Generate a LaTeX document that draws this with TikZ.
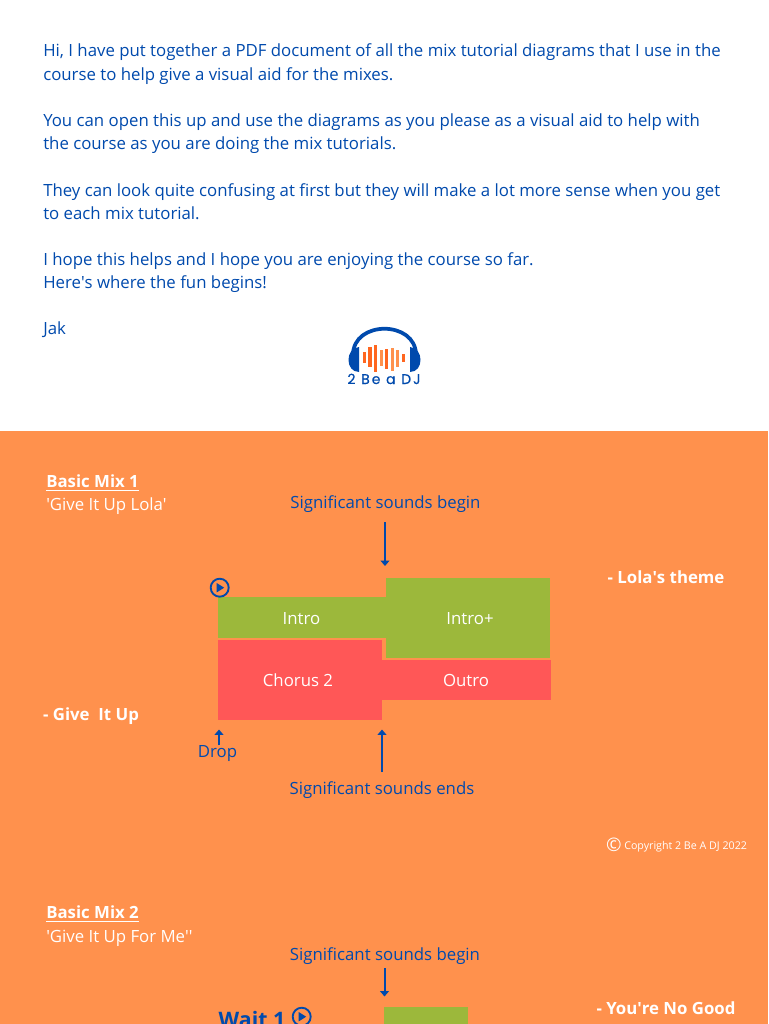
\documentclass[tikz,border=0pt]{standalone}
\usepackage{fontspec}
\setmainfont{Open Sans}
\newfontfamily\logofont[LetterSpace=14,FakeBold=0.3]{Poppins}
\usetikzlibrary{arrows.meta}
\definecolor{djblue}{RGB}{0,74,173}
\definecolor{djorange}{RGB}{255,145,77}
\definecolor{djgreen}{RGB}{156,184,59}
\definecolor{djred}{RGB}{255,87,87}
\definecolor{djbar}{RGB}{255,102,31}
\definecolor{djbarlight}{RGB}{255,145,77}
\tikzset{
  bodyline/.style={anchor=base west,inner sep=0pt,text=djblue,font=\fontsize{12.6}{15}\selectfont},
  bluenote/.style={anchor=base,inner sep=0pt,text=djblue,font=\fontsize{12.6}{15}\selectfont},
  whitenote/.style={anchor=base,inner sep=0pt,text=white,font=\fontsize{12.6}{15}\selectfont},
  whitehead/.style={anchor=base west,inner sep=0pt,text=white,font=\fontsize{12.6}{15}\selectfont\bfseries},
  whitetitle/.style={anchor=base west,inner sep=0pt,text=white,font=\fontsize{12.6}{15}\selectfont},
  cue/.style={draw=djblue,line width=1.5pt,-{Triangle[length=4pt,width=6.5pt]}},
  playring/.style={draw=djblue,line width=1.4pt},
  playtip/.style={fill=djblue}
}
\begin{document}
\begin{tikzpicture}[x=0.75pt,y=0.75pt,yscale=-1,xscale=1]
\useasboundingbox (0,0) rectangle (768,1024);
\clip (0,0) rectangle (768,1024);

%Shape: Rectangle [id:page]
\fill [white] (0,0) rectangle (768,431);
%Shape: Rectangle [id:band]
\fill [djorange] (0,431) rectangle (768,1024);

% Text Node
\draw (43,57) node [bodyline] (hione) {Hi, I have put together a PDF document of all the mix tutorial diagrams that I use in the};
% Text Node
\draw (43,80) node [bodyline] (hitwo) {course to help give a visual aid for the mixes.};
% Text Node
\draw (43,126.5) node [bodyline] (openone) {You can open this up and use the diagrams as you please as a visual aid to help with};
% Text Node
\draw (43,149.5) node [bodyline] (opentwo) {the course as you are doing the mix tutorials.};
% Text Node
\draw (43,196) node [bodyline] (lookone) {They can look quite confusing at first but they will make a lot more sense when you get};
% Text Node
\draw (43,219) node [bodyline] (looktwo) {to each mix tutorial.};
% Text Node
\draw (43,265.5) node [bodyline] (hopeone) {I hope this helps and I hope you are enjoying the course so far.};
% Text Node
\draw (43,288.5) node [bodyline] (hopetwo) {Here\textquotesingle s where the fun begins!};
% Text Node
\draw (43,334.5) node [bodyline] (jak) {Jak};

%Shape: Arc [id:logoband]
\draw [djblue,line width=2.8pt] (353,355) .. controls (353,320) and (416,320) .. (416,355);
%Shape: Polygon Curved [id:logoleft]
\fill [djblue] (359,347) .. controls (345,348) and (345,372) .. (359,372) -- cycle;
%Shape: Polygon Curved [id:logoright]
\fill [djblue] (410,347) .. controls (424,348) and (424,372) .. (410,372) -- cycle;
%Shape: Bars [id:logobars]
\foreach \barx/\bartop/\barbot/\barcol in {364.3/352/363/djbar,370/347/367/djbar,375.7/345/372/djbar,381.7/350/366/djbarlight,386.7/349/369/djbar,392.3/348/371/djbarlight,397.7/350/367/djbarlight,403.3/354/362/djbar}
  \fill [\barcol] (\barx-1.7,\bartop) rectangle (\barx+1.7,\barbot);
% Text Node
\draw (384,384) node [anchor=base,inner sep=0pt,text=djblue,font=\fontsize{10.5}{12}\logofont] (logoname) {2 Be a DJ};

% Text Node
\draw (46,487.5) node [whitehead] (mixonehead) {Basic Mix 1};
\draw [white,line width=0.8pt] (mixonehead.base west) ++(0,3) -- ++(93,0);
% Text Node
\draw (46,510.5) node [whitetitle] (mixonetitle) {\textquotesingle Give It Up Lola\textquotesingle};
% Text Node
\draw (385.5,508) node [bluenote] (beginone) {Significant sounds begin};
\coordinate (beginonetop) at (385,522);
\coordinate (beginonetip) at (385,566);
\draw [cue] (beginonetop) -- (beginonetip);

%Shape: Rectangle [id:introone]
\fill [djgreen] (217.7,597.3) rectangle (386,638);
%Shape: Rectangle [id:introplus]
\fill [djgreen] (385.7,577.7) rectangle (550,657.7);
%Shape: Rectangle [id:chorustwo]
\fill [djred] (217.7,640) rectangle (382,720);
%Shape: Rectangle [id:outroone]
\fill [djred] (382,659.7) rectangle (550.5,700);

% Text Node
\draw (301.5,624) node [whitenote] (intro) {Intro};
% Text Node
\draw (470,624) node [whitenote] (introp) {Intro+};
% Text Node
\draw (298,686.5) node [whitenote] (chorus) {Chorus 2};
% Text Node
\draw (466,686.5) node [whitenote] (outro) {Outro};

%Shape: Circle [id:playone]
\draw [playring] (219.7,587.7) circle (9);
\fill [playtip] (216.7,583) -- (224.2,587.7) -- (216.7,592.4) -- cycle;

% Text Node
\draw (666,583.5) node [anchor=base,inner sep=0pt,text=white,font=\fontsize{12.6}{15}\selectfont\bfseries] (lolatheme) {- Lola\textquotesingle s theme};
% Text Node
\draw (91,720) node [anchor=base,inner sep=0pt,text=white,font=\fontsize{12.6}{15}\selectfont\bfseries] (giveitup) {- Give\ \ It Up};

% Text Node
\draw (217.5,757) node [bluenote] (drop) {Drop};
\coordinate (droptail) at (219,745);
\coordinate (droptip) at (219,729.5);
\draw [cue] (droptail) -- (droptip);
% Text Node
\draw (382,794.5) node [bluenote] (endone) {Significant sounds ends};
\coordinate (endonetail) at (382,772);
\coordinate (endonetip) at (382,729.5);
\draw [cue] (endonetail) -- (endonetip);

% Text Node
\draw (614,845) node [anchor=center,inner sep=0pt,text=white,font=\fontsize{14}{16}\selectfont] (copysign) {©};
% Text Node
\draw (624,849) node [anchor=base west,inner sep=0pt,text=white,font=\fontsize{8}{10}\selectfont] (copyline) {Copyright 2 Be A DJ 2022};

% Text Node
\draw (46,918.5) node [whitehead] (mixtwohead) {Basic Mix 2};
\draw [white,line width=0.8pt] (mixtwohead.base west) ++(0,3) -- ++(93,0);
% Text Node
\draw (46,942) node [whitetitle] (mixtwotitle) {\textquotesingle Give It Up For Me\textquotesingle\textquotesingle};
% Text Node
\draw (385,960.5) node [bluenote] (begintwo) {Significant sounds begin};
\coordinate (begintwotop) at (384.5,968);
\coordinate (begintwotip) at (384.5,996.5);
\draw [cue] (begintwotop) -- (begintwotip);

%Shape: Rectangle [id:introtwo]
\fill [djgreen] (383.5,1007) rectangle (467.5,1030);

% Text Node
\draw (252,1027) node [anchor=base,inner sep=0pt,text=djblue,font=\fontsize{16}{19}\selectfont\bfseries] (waitone) {Wait 1};
%Shape: Circle [id:playtwo]
\draw [playring] (301.7,1016.7) circle (9);
\fill [playtip] (298.7,1012) -- (306.2,1016.7) -- (298.7,1021.4) -- cycle;

% Text Node
\draw (666,1014.5) node [anchor=base,inner sep=0pt,text=white,font=\fontsize{12.6}{15}\selectfont\bfseries] (nogood) {- You\textquotesingle re No Good};

\end{tikzpicture}
\end{document}
